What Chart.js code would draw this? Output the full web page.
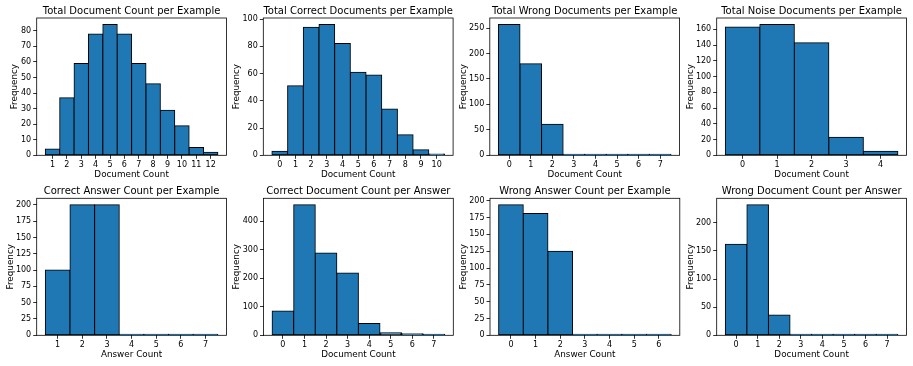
<!DOCTYPE html>
<html>
<head>
<meta charset="utf-8">
<script src="https://cdn.jsdelivr.net/npm/chart.js@4.4.0/dist/chart.umd.min.js"></script>
<style>
  html, body { margin: 0; padding: 0; background: #fff; }
  body { width: 913px; height: 366px; position: relative; overflow: hidden; }
  canvas { position: absolute; }
</style>
</head>
<body>
<script>
// Histogram data (bin centres and frequencies)
const totalDocBins = [1, 2, 3, 4, 5, 6, 7, 8, 9, 10, 11, 12];
const totalDocFreq = [4, 37, 59, 78, 84, 78, 59, 46, 29, 19, 5, 2];
const totalDocYTicks = [0, 10, 20, 30, 40, 50, 60, 70, 80];

const correctDocBins = [0, 1, 2, 3, 4, 5, 6, 7, 8, 9, 10];
const correctDocFreq = [3, 51, 94, 96, 82, 61, 59, 34, 15, 4, 1];
const correctDocYTicks = [0, 20, 40, 60, 80, 100];

const wrongDocBins = [0, 1, 2, 3, 4, 5, 6, 7];
const wrongDocFreq = [257, 180, 61, 1, 0, 0, 0, 1];
const wrongDocYTicks = [0, 50, 100, 150, 200, 250];

const noiseDocBins = [0, 1, 2, 3, 4];
const noiseDocFreq = [163, 166, 143, 23, 5];
const noiseDocYTicks = [0, 20, 40, 60, 80, 100, 120, 140, 160];

const correctAnsBins = [1, 2, 3, 4, 5, 6, 7];
const correctAnsFreq = [100, 200, 200, 0, 0, 0, 1];
const correctAnsYTicks = [0, 25, 50, 75, 100, 125, 150, 175, 200];

const correctPerAnsBins = [0, 1, 2, 3, 4, 5, 6, 7];
const correctPerAnsFreq = [85, 457, 288, 218, 41, 9, 5, 2];
const correctPerAnsYTicks = [0, 100, 200, 300, 400];

const wrongAnsBins = [0, 1, 2, 3, 4, 5, 6];
const wrongAnsFreq = [194, 181, 125, 0, 0, 0, 1];
const wrongAnsYTicks = [0, 25, 50, 75, 100, 125, 150, 175, 200];

const wrongPerAnsBins = [0, 1, 2, 3, 4, 5, 6, 7];
const wrongPerAnsFreq = [162, 232, 36, 1, 0, 0, 0, 1];
const wrongPerAnsYTicks = [0, 50, 100, 150, 200];

const panels = [
    { title: 'Total Document Count per Example', xLabel: 'Document Count', bins: totalDocBins, freq: totalDocFreq, yTicks: totalDocYTicks },
    { title: 'Total Correct Documents per Example', xLabel: 'Document Count', bins: correctDocBins, freq: correctDocFreq, yTicks: correctDocYTicks },
    { title: 'Total Wrong Documents per Example', xLabel: 'Document Count', bins: wrongDocBins, freq: wrongDocFreq, yTicks: wrongDocYTicks },
    { title: 'Total Noise Documents per Example', xLabel: 'Document Count', bins: noiseDocBins, freq: noiseDocFreq, yTicks: noiseDocYTicks },
    { title: 'Correct Answer Count per Example', xLabel: 'Answer Count', bins: correctAnsBins, freq: correctAnsFreq, yTicks: correctAnsYTicks },
    { title: 'Correct Document Count per Answer', xLabel: 'Document Count', bins: correctPerAnsBins, freq: correctPerAnsFreq, yTicks: correctPerAnsYTicks },
    { title: 'Wrong Answer Count per Example', xLabel: 'Answer Count', bins: wrongAnsBins, freq: wrongAnsFreq, yTicks: wrongAnsYTicks },
    { title: 'Wrong Document Count per Answer', xLabel: 'Document Count', bins: wrongPerAnsBins, freq: wrongPerAnsFreq, yTicks: wrongPerAnsYTicks }
];

// Axes boxes on the page: left, top, width, height, x of the "Frequency" label
const boxes = [
    [36.7, 18, 189.8, 137.3, 15],
    [263.3, 18, 189.8, 137.3, 237],
    [489.8, 18, 189.8, 137.3, 464],
    [716.7, 18, 189.8, 137.3, 691],
    [36.7, 198.3, 189.8, 137, 11],
    [263.5, 198.3, 189.8, 137, 237],
    [490, 198.3, 189.8, 137, 464],
    [716.7, 198.3, 189.8, 137, 691]
];

const FONT = "'DejaVu Sans', sans-serif";
Chart.defaults.font.family = FONT;
Chart.defaults.color = '#000';

// matplotlib style frame around the plot area
const framePlugin = {
    id: 'frame',
    afterDatasetsDraw(chart) {
        const a = chart.chartArea;
        const ctx = chart.ctx;
        ctx.save();
        ctx.strokeStyle = '#000';
        ctx.lineWidth = 0.8;
        ctx.strokeRect(a.left, a.top, a.right - a.left, a.bottom - a.top);
        ctx.restore();
    }
};

const tickGrid = {
    display: true,
    offset: false,
    drawOnChartArea: false,
    drawTicks: true,
    tickLength: 3.5,
    tickWidth: 0.8,
    tickColor: '#000'
};

panels.forEach((p, i) => {
    const [L, T, W, H, fx] = boxes[i];
    const left = Math.round(fx - 10);
    const top = Math.round(T - 13);
    const axisW = L - left;
    const axisH = 26;
    const cw = Math.ceil(L + W + 8 - left);
    const ch = Math.ceil(T + H + axisH - top);
    const padTop = T - 13 - top;
    const padRight = cw - (L + W - left);
    const padBottom = ch - (T + H + axisH - top);

    const canvas = document.createElement('canvas');
    canvas.width = cw;
    canvas.height = ch;
    canvas.style.left = left + 'px';
    canvas.style.top = top + 'px';
    canvas.style.width = cw + 'px';
    canvas.style.height = ch + 'px';
    document.body.appendChild(canvas);

    const n = p.bins.length;
    const margin = 0.05 * n;
    const xMin = p.bins[0] - 0.5 - margin;
    const xMax = p.bins[n - 1] + 0.5 + margin;
    const yMax = Math.max(...p.freq) * 1.05;

    new Chart(canvas, {
        type: 'bar',
        data: {
            datasets: [{
                data: p.bins.map((b, k) => ({ x: b, y: p.freq[k] })),
                backgroundColor: '#1f77b4',
                borderColor: '#000',
                borderWidth: 1,
                borderSkipped: false,
                inflateAmount: 0.5,
                minBarLength: 1,
                barPercentage: 1,
                categoryPercentage: 1
            }]
        },
        options: {
            responsive: false,
            animation: false,
            devicePixelRatio: 1,
            layout: { padding: { left: 0, top: padTop, right: padRight, bottom: padBottom } },
            plugins: {
                legend: { display: false },
                tooltip: { enabled: false },
                title: {
                    display: true,
                    text: p.title,
                    fullSize: false,
                    color: '#000',
                    font: { family: FONT, size: 10, weight: 'normal', lineHeight: 1.2 },
                    padding: { top: 0, bottom: 1 }
                }
            },
            scales: {
                x: {
                    type: 'linear',
                    offset: false,
                    min: xMin,
                    max: xMax,
                    afterBuildTicks: s => { s.ticks = p.bins.map(v => ({ value: v })); },
                    afterFit: s => { s.height = axisH; },
                    grid: tickGrid,
                    border: { display: false },
                    ticks: { color: '#000', font: { size: 8 }, padding: 1.5, maxRotation: 0, autoSkip: false },
                    title: {
                        display: true,
                        text: p.xLabel,
                        color: '#000',
                        font: { size: 8.8, lineHeight: 1.2 },
                        padding: { top: 0, bottom: 1.7 }
                    }
                },
                y: {
                    type: 'linear',
                    min: 0,
                    max: yMax,
                    afterBuildTicks: s => { s.ticks = p.yTicks.map(v => ({ value: v })); },
                    afterFit: s => { s.width = axisW; },
                    grid: tickGrid,
                    border: { display: false },
                    ticks: { color: '#000', font: { size: 8 }, padding: 2 },
                    title: {
                        display: true,
                        text: 'Frequency',
                        color: '#000',
                        font: { size: 8.8, lineHeight: 1.2 },
                        padding: { top: 4.7, bottom: 0 }
                    }
                }
            }
        },
        plugins: [framePlugin]
    });
});
</script>
</body>
</html>
